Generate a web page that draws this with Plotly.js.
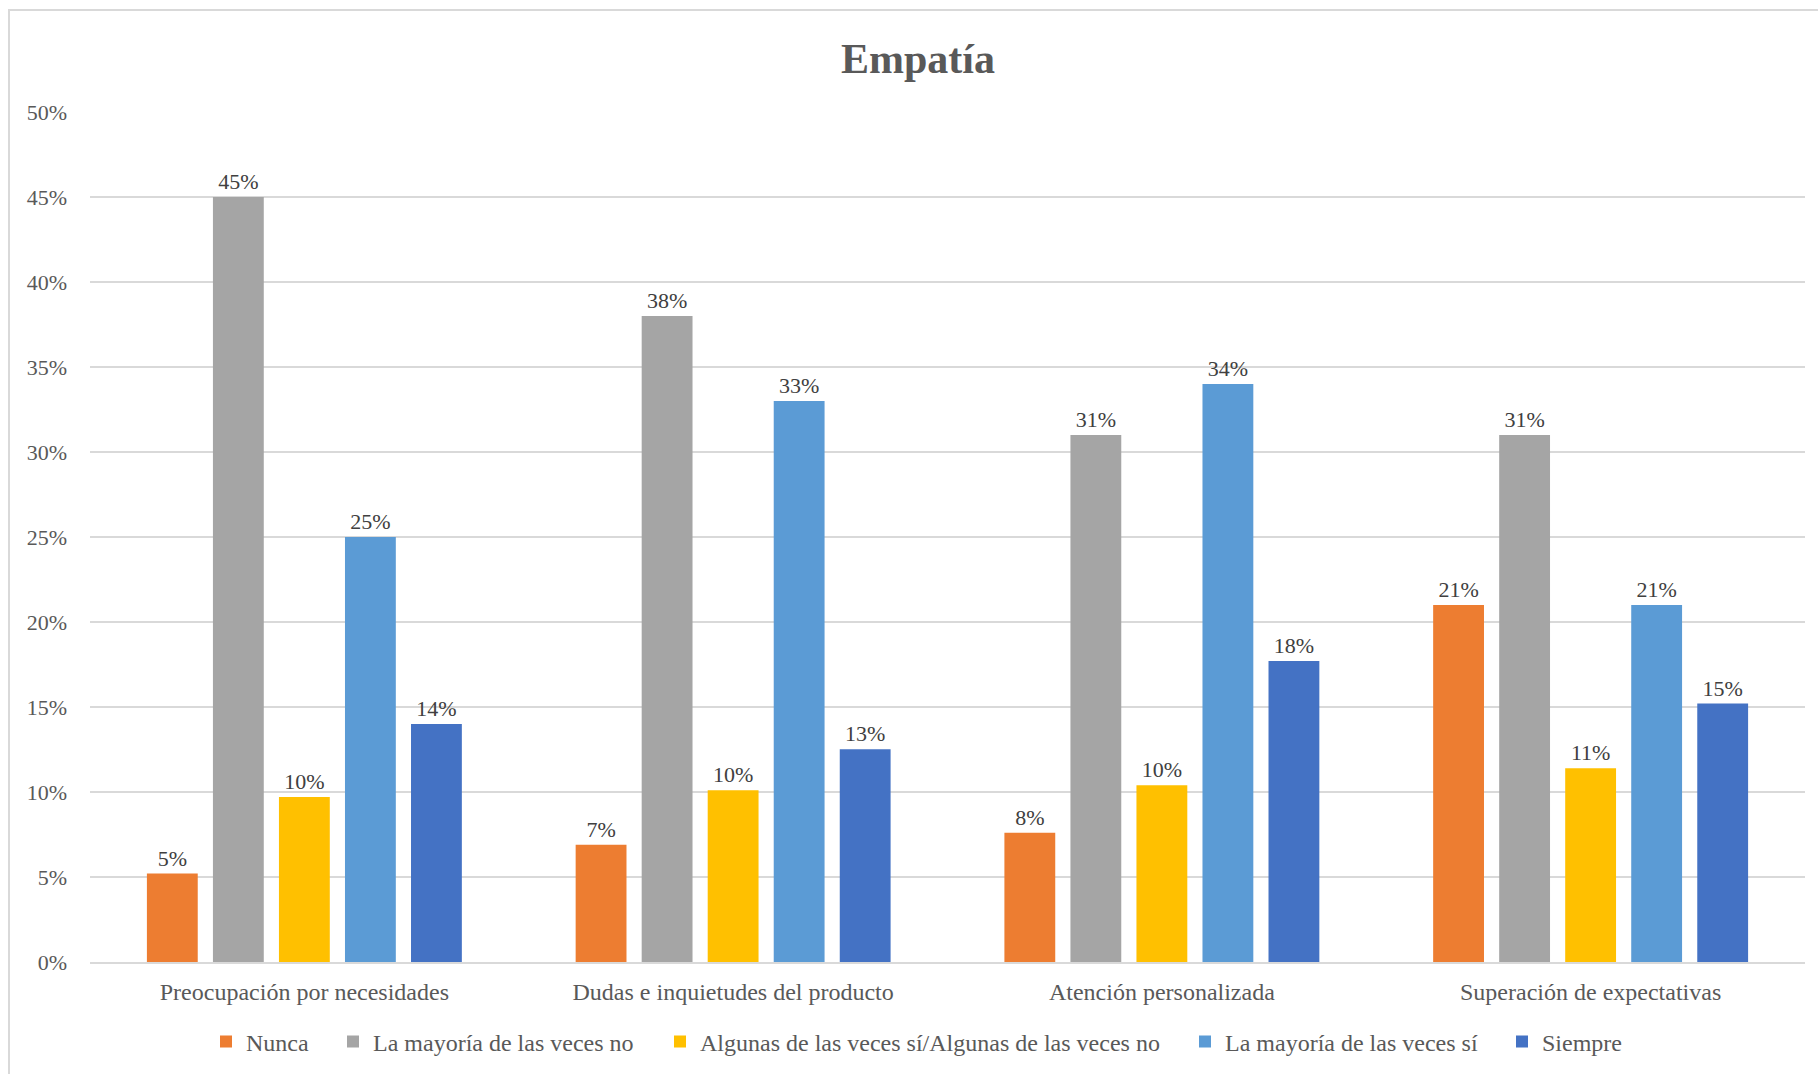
<!DOCTYPE html>
<html>
<head>
<meta charset="utf-8">
<script src="https://cdn.plot.ly/plotly-3.0.1.min.js"></script>
<style>
  html, body { margin: 0; padding: 0; background: #fff; }
  #wrap { position: relative; width: 1818px; height: 1074px; }
  #chart { width: 1818px; height: 1074px; }
  #frame { position: absolute; left: 8px; top: 9px; width: 1830px; height: 1100px;
           border: 2px solid #d9d9d9; pointer-events: none; box-sizing: border-box; }
</style>
</head>
<body>
<div id="wrap">
  <div id="chart"></div>
  <div id="frame"></div>
</div>
<script>
const categories = [
  "Preocupación por necesidades",
  "Dudas e inquietudes del producto",
  "Atención personalizada",
  "Superación de expectativas"
];
const seriesNames = [
  "Nunca",
  "La mayoría de las veces no",
  "Algunas de las veces sí/Algunas de las veces no",
  "La mayoría de las veces sí",
  "Siempre"
];
const nunca     = [0.052, 0.069, 0.076, 0.210];
const mayoriaNo = [0.450, 0.380, 0.310, 0.310];
const algunas   = [0.097, 0.101, 0.104, 0.114];
const mayoriaSi = [0.250, 0.330, 0.340, 0.210];
const siempre   = [0.140, 0.1252, 0.177, 0.152];
const colors = ["#ED7D31", "#A5A5A5", "#FFC000", "#5B9BD5", "#4472C4"];

const FONT = "Liberation Serif, Times New Roman, serif";
const seriesValues = [nunca, mayoriaNo, algunas, mayoriaSi, siempre];
const legendIds = ["legend", "legend2", "legend3", "legend4", "legend5"];
// left pixel position of each legend entry's text (container px)
const legendTextX = [248, 375, 702, 1227, 1544];

const traces = seriesValues.map((vals, i) => ({
  type: "bar",
  name: seriesNames[i],
  legend: legendIds[i],
  x: categories,
  y: vals,
  marker: { color: colors[i] },
  texttemplate: "%{y:.0%}",
  textposition: "outside",
  cliponaxis: false,
  textfont: { family: FONT, size: 22, color: "#404040" },
  hoverinfo: "skip"
}));

const layout = {
  width: 1818,
  height: 1074,
  paper_bgcolor: "#ffffff",
  plot_bgcolor: "#ffffff",
  margin: { l: 90, r: 13, t: 112, b: 112 },
  font: { family: FONT, color: "#595959", size: 22 },
  title: {
    text: "<b>Empatía</b>",
    font: { family: FONT, size: 42, color: "#595959" },
    x: 918 / 1818, xanchor: "center", xref: "container",
    y: 1 - 58 / 1074, yref: "container", yanchor: "middle"
  },
  barmode: "group",
  bargap: 0.23,
  bargroupgap: 0.23,
  xaxis: {
    type: "category",
    showgrid: false,
    showline: true,
    linecolor: "#d9d9d9",
    linewidth: 2,
    ticks: "",
    ticklabelstandoff: 7,
    tickfont: { family: FONT, size: 24, color: "#595959" }
  },
  yaxis: {
    range: [0, 0.5],
    dtick: 0.05,
    tickformat: ".0%",
    showgrid: true,
    gridcolor: "#d9d9d9",
    gridwidth: 2,
    zeroline: false,
    showline: false,
    ticks: "",
    ticklabelstandoff: 22,
    tickfont: { family: FONT, size: 22, color: "#595959" }
  },
  showlegend: true
};

legendIds.forEach((id, i) => {
  layout[id] = {
    orientation: "h",
    x: (legendTextX[i] - 42) / 1818, xanchor: "left", xref: "container",
    y: 1 - 1042 / 1074, yref: "container", yanchor: "middle",
    font: { family: FONT, size: 24, color: "#595959" },
    bgcolor: "rgba(0,0,0,0)",
    itemwidth: 30
  };
});

Plotly.newPlot("chart", traces, layout, { displayModeBar: false, staticPlot: true });
</script>
</body>
</html>
